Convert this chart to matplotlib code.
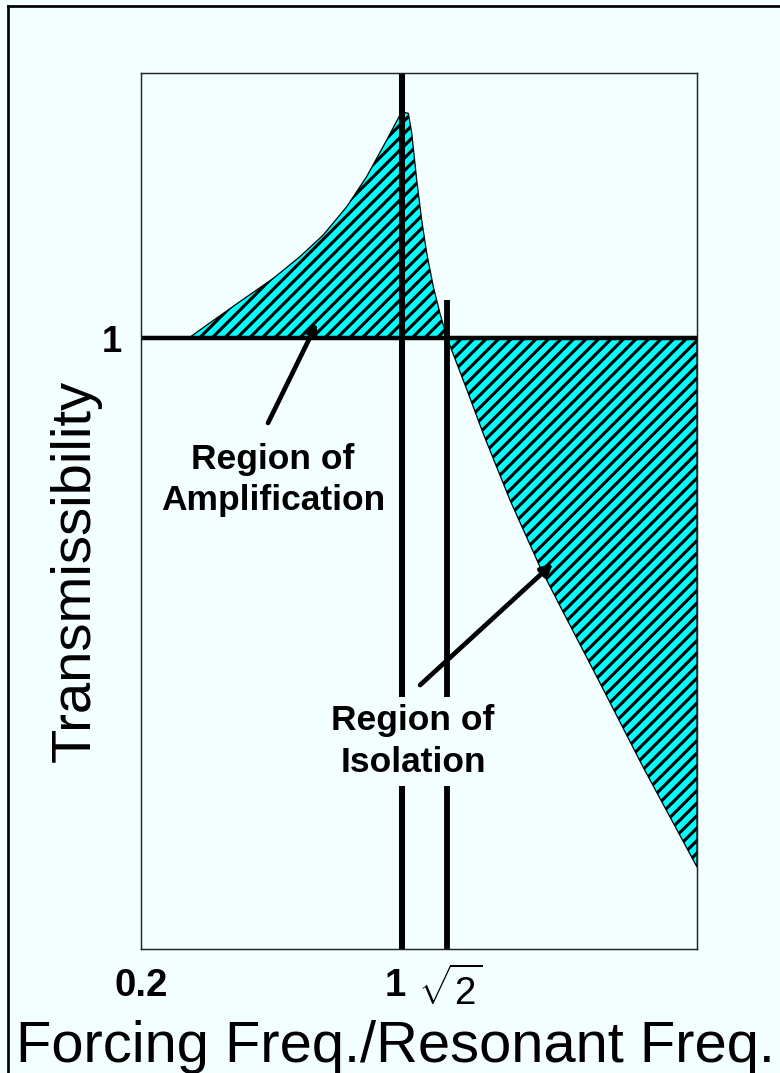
import matplotlib
matplotlib.use("Agg")
import matplotlib.pyplot as plt
from matplotlib.lines import Line2D

# ---- data ----
freq_ratio = [0.271, 0.300, 0.368, 0.452, 0.533, 0.615, 0.711, 0.804, 0.910, 0.998,
              1.040, 1.062, 1.095, 1.129, 1.165, 1.213, 1.264, 1.320,
              1.493, 1.648, 1.946, 2.342, 2.600, 3.390, 4.420, 6.166]
transmissibility = [1.004, 1.050, 1.147, 1.252, 1.359, 1.474, 1.640, 1.837, 2.109, 2.346,
                    2.332, 2.163, 1.814, 1.560, 1.376, 1.213, 1.097, 1.000,
                    0.822, 0.699, 0.543, 0.422, 0.3725, 0.2725, 0.1986, 0.1362]
resonance_x = 1.0
sqrt2_x = 1.32          # position of the sqrt(2) line as drawn
sqrt2_line_top = 1.154
x_tick_pos = [0.2, 0.958, 1.345]
x_tick_labels = ["0.2", "1", r"$\sqrt{2}$"]
y_tick_pos = [1.0]
y_tick_labels = ["1"]
xlim = (0.2, 6.166)
ylim = (0.1, 2.715)

BG = "#F3FFFF"
DPI = 75
plt.rcParams["hatch.linewidth"] = 3.0
plt.rcParams["font.family"] = ["Liberation Sans", "DejaVu Sans"]
plt.rcParams["mathtext.fontset"] = "custom"
plt.rcParams["mathtext.rm"] = "Liberation Sans"

fig = plt.figure(figsize=(780 / DPI, 1073 / DPI), dpi=DPI, facecolor=BG)
ax = fig.add_axes([141 / 780, 1 - 949 / 1073, 556 / 780, 876 / 1073])
ax.set_facecolor(BG)
ax.set_xscale("log")
ax.set_yscale("log")
ax.set_xlim(*xlim)
ax.set_ylim(*ylim)

# hatched region between curve and T=1
ax.fill_between(freq_ratio, transmissibility, 1.0, facecolor="#00FFFF",
                edgecolor="black", hatch="//", linewidth=1.2, zorder=2)

# reference lines
ax.axhline(1.0, color="black", lw=4.3, zorder=3)
ax.axvline(resonance_x, color="black", lw=5.8, zorder=3)
ax.plot([sqrt2_x, sqrt2_x], [ylim[0], sqrt2_line_top], color="black", lw=5.6,
        zorder=3, solid_capstyle="butt")

for s in ax.spines.values():
    s.set_linewidth(1.4)
    s.set_color("#222222")
    s.set_zorder(4)

# ticks
ax.minorticks_off()
ax.set_xticks(x_tick_pos)
ax.set_xticklabels(x_tick_labels)
ax.set_yticks(y_tick_pos)
ax.set_yticklabels(y_tick_labels)
ax.tick_params(axis="x", length=0, pad=18, labelsize=37)
ax.tick_params(axis="y", length=0, pad=18, labelsize=35)
for i, lab in enumerate(ax.get_xticklabels()):
    lab.set_fontweight("bold" if i < 2 else "normal")
for lab in ax.get_yticklabels():
    lab.set_fontweight("bold")

# annotations
ax.annotate("", xy=(0.592, 1.058), xytext=(0.4377, 0.726),
            arrowprops=dict(arrowstyle="-|>", lw=4.5, color="black",
                            mutation_scale=18, shrinkA=0, shrinkB=0), zorder=4)
ax.annotate("", xy=(2.538, 0.428), xytext=(1.118, 0.2704),
            arrowprops=dict(arrowstyle="-|>", lw=4.5, color="black",
                            mutation_scale=22, shrinkA=0, shrinkB=0), zorder=4)

ax.text(0.451, 0.585, "Region of\nAmplification", ha="center", va="center",
        fontsize=34, fontweight="bold", linespacing=1.3, zorder=6)
ax.text(1.070, 0.2185, "Region of\nIsolation", ha="center", va="center",
        fontsize=34, fontweight="bold", linespacing=1.35, zorder=6,
        bbox=dict(boxstyle="square,pad=0.2", facecolor=BG, edgecolor="none"))

# axis labels
fig.text(76 / 780, 1 - 571 / 1073, "Transmissibility", rotation=90,
         ha="center", va="center", fontsize=54)
fig.text(395 / 780, 1 - 1062 / 1073, "Forcing Freq./Resonant Freq.",
         ha="center", va="baseline", fontsize=55.5)

# outer frame (left and top edges visible)
fx, fy = 8 / 780, 1 - 6 / 1073
fig.add_artist(Line2D([fx, fx], [-0.01, fy], transform=fig.transFigure,
                      color="black", lw=2.6))
fig.add_artist(Line2D([fx, 1.01], [fy, fy], transform=fig.transFigure,
                      color="black", lw=2.6))

fig.savefig("out.png", dpi=DPI, facecolor=BG)
